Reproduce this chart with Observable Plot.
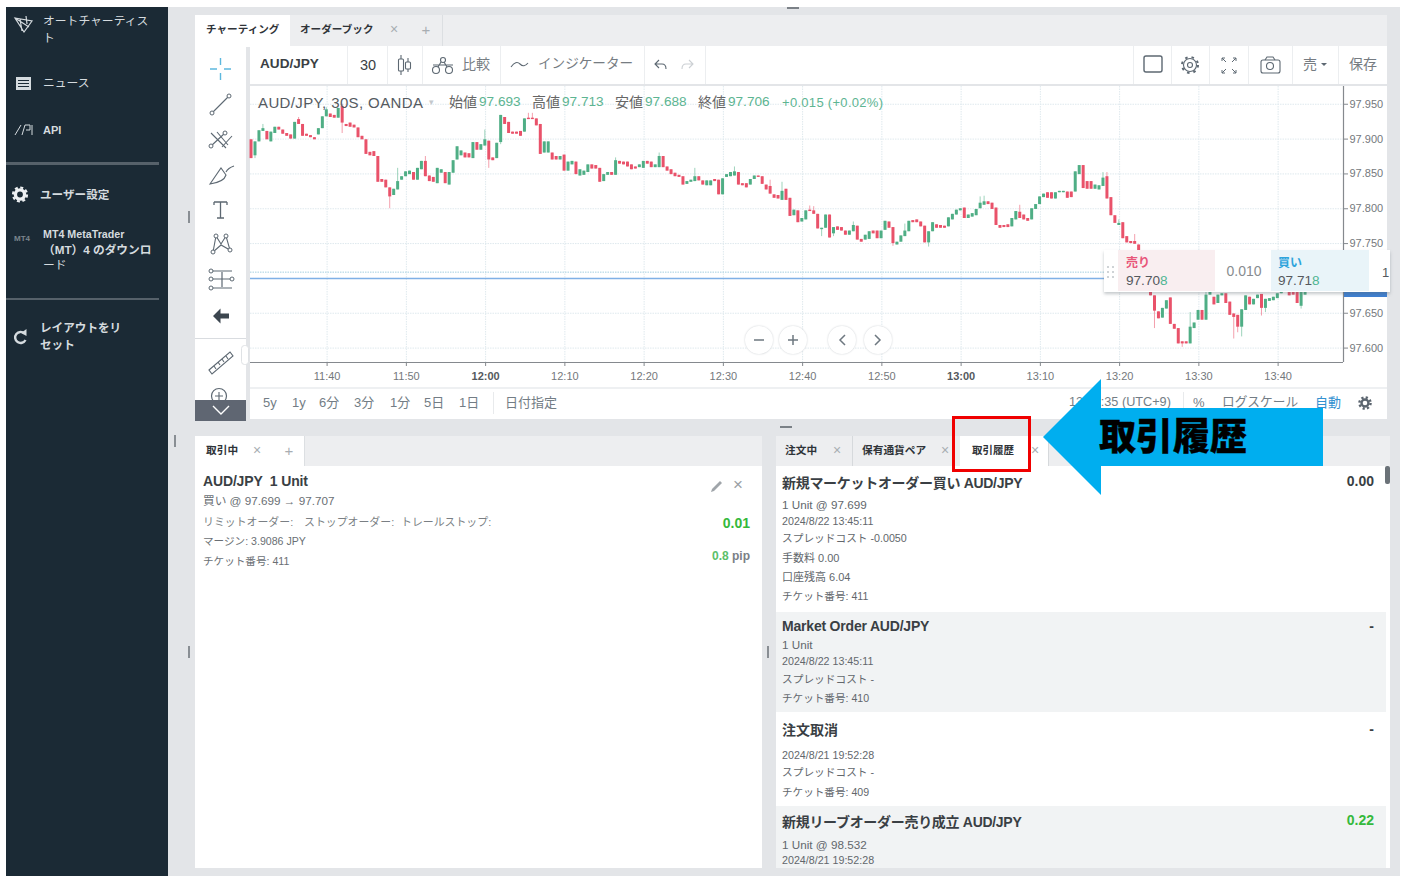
<!DOCTYPE html>
<html lang="ja">
<head>
<meta charset="utf-8">
<title>AUD/JPY 取引履歴</title>
<script src="https://cdn.jsdelivr.net/npm/d3@7"></script>
<script src="https://cdn.jsdelivr.net/npm/@observablehq/plot@0.6"></script>
<style>
html,body{margin:0;padding:0;background:#fff;width:1404px;height:876px;overflow:hidden}
#page{position:relative;width:1404px;height:876px;overflow:hidden;font-family:"Liberation Sans","Noto Sans CJK JP",sans-serif}
.b,.t{position:absolute}
.t{white-space:nowrap;line-height:1;transform:translateY(-50%)}
.t.r{transform:translate(-100%,-50%)}
.t.c{transform:translate(-50%,-50%)}
#chart{position:absolute;left:250px;top:86px;display:block;background:#fff}
#top{position:absolute;left:0;top:0;width:1404px;height:876px}
</style>
</head>
<body>
<div id="page"></div>
<script>
// Price values are thousandths above 97 yen (899 = 97.899), one 30-second candle per entry.
const opens = [
899,876,896,911,911,896,908,917,913,908,906,900,928,921,907,905,902,906,915,932,
936,934,930,947,921,923,920,916,904,899,881,882,875,842,841,830,819,827,841,846,
849,852,841,856,868,847,845,836,851,852,834,851,870,876,880,879,872,895,884,890,
897,873,872,895,931,924,910,910,911,910,930,930,929,921,880,880,880,875,870,877,
854,863,867,847,848,852,863,862,858,839,848,852,848,868,867,867,863,860,859,858,
868,867,859,859,875,860,856,851,848,846,835,838,839,846,840,833,833,842,841,820,
845,846,847,852,836,836,834,842,847,846,834,832,820,819,812,828,815,790,797,781,
784,798,797,792,770,772,791,764,774,773,768,762,767,775,756,755,756,768,768,757,
769,781,773,748,752,760,767,783,784,781,775,751,767,777,776,775,774,784,791,797,
801,786,788,790,800,805,810,808,801,776,776,777,774,784,795,791,786,784,799,806,
816,823,823,814,823,823,824,824,824,849,862,839,839,828,827,832,846,816,790,776,
780,760,753,753,748,740,725,700,675,652,643,656,672,634,628,609,609,606,628,640,
654,640,676,673,664,675,678,666,649,647,630,654,673,662,671,677,657,667,668,671,678,682,680,680,680,660,676];
const closes = [
872,896,912,915,899,910,917,913,907,904,900,924,921,904,904,902,899,915,932,942,
931,930,944,923,918,917,916,902,899,878,876,875,838,838,830,817,828,839,846,853,
854,841,858,868,846,839,838,858,856,836,852,869,889,883,873,873,895,884,892,899,
870,869,894,934,921,908,907,907,904,929,928,928,919,878,896,896,870,870,875,854,
867,868,849,856,854,863,857,857,838,849,852,848,869,864,863,860,856,857,863,868,
864,859,863,875,859,854,849,846,845,834,839,841,846,840,834,840,840,839,820,843,
849,852,853,834,833,830,842,847,845,835,827,821,815,814,825,812,789,798,780,786,
797,796,792,771,772,791,758,773,769,768,762,768,776,755,752,762,767,764,757,768,
782,772,750,752,761,768,782,780,780,774,751,767,780,772,772,772,787,792,798,800,
786,791,793,799,808,810,806,799,776,772,773,773,786,796,786,784,782,800,806,817,
821,815,814,823,825,825,815,816,853,862,829,828,828,834,833,844,814,790,779,779,
757,751,750,749,740,725,700,675,653,642,657,668,634,627,606,606,606,630,636,654,
640,676,685,662,676,678,664,647,644,630,655,675,662,670,676,657,670,671,673,678,682,680,675,676,664,680,680];
// Wicks that stand clear of the body: [candle number, price in thousandths]
const upperWicks = [[4,921],[13,931],[20,945],[24,950],[38,858],[45,875],[60,913],[71,937],[72,937],[93,873],[104,880],[113,858],[123,860],[132,841],[135,838],[142,804],[143,803],[153,781],[166,778],[185,817],[186,818],[195,805],[216,852],[217,852],[220,784],[224,763],[238,651],[242,680]];
const lowerWicks = [[2,872],[24,908],[36,800],[61,858],[64,892],[145,760],[148,760],[163,746],[172,745],[229,628],[236,601],[249,613],[250,622],[251,616],[256,646],[257,651],[266,656]];
const priceTicks = [97.95,97.9,97.85,97.8,97.75,97.7,97.65,97.6];
const timeTicks = ["11:40","11:50","12:00","12:10","12:20","12:30","12:40","12:50","13:00","13:10","13:20","13:30","13:40"];
const hourTicks = ["12:00","13:00"];
const askLine = 97.709, bidLine = 97.700;

const at = s => new Date(`2024-08-22T${s}Z`);
const first = at("11:30:24").getTime();
const high = new Map(upperWicks), low = new Map(lowerWicks);
const candles = opens.map((o,i)=>({
  time:new Date(first+i*30000),
  open:97+o/1000, close:97+closes[i]/1000,
  high:97+(high.get(i+1) ?? Math.max(o,closes[i]))/1000,
  low:97+(low.get(i+1) ?? Math.min(o,closes[i]))/1000,
  up:closes[i]>=o
}));
const UP="#4fae85", DOWN="#e9526a", GRID="#dfe9ee", AX="#85898e";
const hourSet=new Set(hourTicks);
const fmt=d3.utcFormat("%H:%M");

const chart = Plot.plot({
  width:1137,height:302,marginLeft:0,marginRight:44,marginTop:0,marginBottom:26,
  style:{background:"#fff",fontFamily:'"Liberation Sans",sans-serif',fontSize:"11px",color:"#74787c",overflow:"visible"},
  x:{type:"utc",domain:[at("11:30:20"),at("13:48:15")]},
  y:{domain:[97.5793,97.9755]},
  marks:[
    Plot.ruleX(timeTicks.map(at),{stroke:GRID,strokeDasharray:"1.5 1"}),
    Plot.ruleY(priceTicks,{stroke:GRID,strokeDasharray:"1.5 1"}),
    Plot.ruleY([askLine],{stroke:"#a5cfe0",strokeDasharray:"1.5 1"}),
    Plot.ruleY([bidLine],{stroke:"#7fb0e6",strokeWidth:1.5}),
    Plot.ruleX(candles,{x:"time",y1:"low",y2:"high",stroke:d=>d.up?UP:DOWN,strokeOpacity:0.55,strokeWidth:1}),
    Plot.ruleX(candles,{x:"time",y1:"open",y2:"close",stroke:d=>d.up?UP:DOWN,strokeWidth:3}),
    Plot.ruleX([at("13:48:15")],{stroke:AX,strokeWidth:1.2}),
    Plot.ruleY([97.5793],{stroke:AX,strokeWidth:1.2}),
    Plot.axisY({anchor:"right",ticks:priceTicks,tickFormat:d3.format(".3f"),tickSize:4,tickPadding:2,label:null,stroke:AX,fill:"#74787c"}),
    Plot.axisX({anchor:"bottom",ticks:timeTicks.filter(t=>!hourSet.has(t)).map(at),tickFormat:fmt,tickSize:4,tickPadding:6,label:null,stroke:AX,fill:"#74787c"}),
    Plot.axisX({anchor:"bottom",ticks:hourTicks.map(at),tickFormat:fmt,tickSize:4,tickPadding:6,label:null,stroke:AX,fill:"#55595d",fontWeight:"bold"})
  ]
});
chart.id="chart";

// ---- page furniture around the chart ----
const page=document.getElementById("page");
function box(x,y,w,h,bg,extra){const d=document.createElement("div");d.className="b";d.style.cssText=`left:${x}px;top:${y}px;width:${w}px;height:${h}px;background:${bg};${extra||""}`;page.appendChild(d);return d}
function txt(x,y,s,size,color,opt){opt=opt||{};const d=document.createElement("div");d.className="t "+(opt.a||"");d.style.cssText=`left:${x}px;top:${y}px;font-size:${size}px;color:${color};font-weight:${opt.w||"normal"};${opt.css||""}`;if(opt.html)d.innerHTML=s;else d.textContent=s;(opt.to||page).appendChild(d);return d}

box(6,7,1394,869,"#e3e5e8");
box(6,7,162,869,"#1b2a35");
box(6,162,153,3,"#56616a");
box(6,298,153,2,"#56616a");

// upper panel
box(195,15,1192,31,"#edeef0");
box(195,15,96,32,"#fff");
box(290,15,120,31,"#edeef0","border-right:1px solid #dcdfe2");
box(410,15,32,31,"#edeef0","border-right:1px solid #dcdfe2");
box(195,46,51,374,"#fff");
box(195,338,51,1,"#d9dce0");
box(250,46,1137,38,"#fff");
for(const x of [347,387,422,500,644,705,1133,1171,1209,1248,1292,1338]) box(x,46,1,38,"#eceef0");
page.appendChild(chart);
box(250,388,1137,31,"#fff");
box(250,387,1137,2,"#eef0f2");
box(493,392,1,22,"#e8eaec");
box(1183,392,1,22,"#e8eaec");
box(1344,292,43,5,"#3f80d2");

// lower left panel
box(195,436,567,30,"#edeef0");
box(195,436,78,31,"#fff");
box(273,436,31,30,"#fff","border-right:1px solid #dcdfe2");
box(195,466,567,402,"#fff");
// lower right panel
box(776,436,614,30,"#edeef0");
box(776,466,614,146,"#fff");
box(776,612,610,100,"#f1f3f4");
box(776,712,614,94,"#fff");
box(776,806,610,62,"#f1f3f4");
box(1386,612,4,256,"#fff");
box(852,436,1,30,"#d6d9dc");
box(960,436,88,31,"#fff");
box(1048,436,1,30,"#d6d9dc");
box(1385,466,5,18,"#6b7278","border-radius:2px");

// sidebar
const SB="#d5dbdf";
txt(43,21.5,"オートチャーティス",11.8,SB);
txt(43,38.5,"ト",11.8,SB);
txt(43,83.5,"ニュース",11.8,SB);
txt(43,130,"API",11,SB,{w:"bold"});
txt(40,194.5,"ユーザー設定",11.6,SB,{w:"bold"});
txt(14,239,"MT4",8,"#7b868e",{w:"bold"});
txt(43,234,"MT4 MetaTrader",10.7,SB,{w:"bold"});
txt(43,249.5,"（MT）4 のダウンロ",11.7,SB,{w:"bold"});
txt(43,266,"ード",11.8,SB);
txt(40,328,"レイアウトをリ",11.6,SB,{w:"bold"});
txt(40,345,"セット",11.6,SB,{w:"bold"});

// upper tabs and toolbar
const DK="#2f3338", G1="#767c82";
txt(206,29,"チャーティング",10.6,DK,{w:"bold"});
txt(300,29,"オーダーブック",10.6,DK,{w:"bold"});
txt(394,29,"×",14,"#a8adb2",{a:"c"});
txt(426,29,"+",15,"#a8adb2",{a:"c"});
txt(260,64,"AUD/JPY",13.6,"#3a3f44",{w:"bold"});
txt(368,65,"30",14.5,"#3a3f44",{a:"c"});
txt(462,64,"比較",14,G1);
txt(538,64,"インジケーター",13.6,G1);
txt(1303,64,"売",14,G1);
txt(1349,64,"保存",14,G1);

// chart legend
const GN="#5db592";
txt(258,102,"AUD/JPY, 30S, OANDA",15,"#555a5f",{css:"letter-spacing:0.38px"});
txt(431,102,"▾",9,"#c4c8cc",{a:"c"});
txt(449,102,"始値",14,"#666");txt(479,102,"97.693",13.6,GN);
txt(532,102,"高値",14,"#666");txt(562,102,"97.713",13.6,GN);
txt(615,102,"安値",14,"#666");txt(645,102,"97.688",13.6,GN);
txt(698,102,"終値",14,"#666");txt(728,102,"97.706",13.6,GN);
txt(782,102,"+0.015 (+0.02%)",13,GN,{css:"letter-spacing:0.3px"});

// zoom buttons
for(const x of [759,793,842,878]) box(x-14,326,28,28,"#fff","border-radius:50%;box-shadow:0 0 2px #c8ccd0;");

// trade panel over the chart
box(1104,250,286,42,"#fff","box-shadow:0 2px 3px rgba(90,100,110,.35)");
box(1118,250,97,41,"#f9eef0");
box(1271,250,98,41,"#e9f4f9");
txt(1126,263,"売り",12,"#e8567a",{w:"bold"});
txt(1126,281,'97.70<span style="color:#4fb592">8</span>',13.6,"#55595e",{html:true});
txt(1244,271,"0.010",14,"#888c90",{a:"c"});
txt(1278,263,"買い",12,"#2ea4dc",{w:"bold"});
txt(1278,281,'97.71<span style="color:#4fb592">8</span>',13.6,"#55595e",{html:true});
txt(1382,272,"1",13,"#55595e");

// range bar
const RB="#737d85";
[["5y",263],["1y",292],["6分",319],["3分",354],["1分",390],["5日",424],["1日",459],["日付指定",505]]
  .forEach(([s,x])=>txt(x,401.5,s,13,RB));
txt(1069,402,"13:45:35 (UTC+9)",12.7,RB);
txt(1193,401.5,"%",13,RB);
txt(1222,401.5,"ログスケール",12.7,RB);
txt(1315,401.5,"自動",13,"#3391d0");

// lower left text
txt(206,450,"取引中",10.7,DK,{w:"bold"});
txt(257,450,"×",14,"#a8adb2",{a:"c"});
txt(289,450,"+",15,"#a8adb2",{a:"c"});
txt(203,481,"AUD/JPY  1 Unit",14,"#3a3f44",{w:"bold",css:"white-space:pre;letter-spacing:-0.15px"});
txt(203,501,"買い @ 97.699 → 97.707",11.7,"#6a6f74");
txt(203,521.5,"リミットオーダー:",10.9,"#7a7f84");
txt(304,521.5,"ストップオーダー:",10.9,"#7a7f84");
txt(401,521.5,"トレールストップ:",10.9,"#7a7f84");
txt(203,541,"マージン: 3.9086 JPY",10.6,"#6a6f74");
txt(203,561,"チケット番号: 411",10.6,"#6a6f74");
txt(750,523,"0.01",14,"#35b93c",{a:"r",w:"bold"});
txt(750,556,'<span style="color:#5bbf6a">0.8</span> pip',12,"#7a8086",{a:"r",w:"bold",html:true});
txt(738,484,"×",17,"#9a9fa4",{a:"c"});

// lower right text
txt(785,450,"注文中",10.7,DK,{w:"bold"});
txt(837,450,"×",14,"#a8adb2",{a:"c"});
txt(862,450,"保有通貨ペア",10.7,DK,{w:"bold"});
txt(945,450,"×",14,"#a8adb2",{a:"c"});
txt(972,450,"取引履歴",10.5,DK,{w:"bold"});
txt(1035,450,"×",14,"#a8adb2",{a:"c"});
const H="#3a3f44", L="#62676c", TT="letter-spacing:-0.3px", TM="letter-spacing:-0.2px";
txt(782,483,"新規マーケットオーダー買い AUD/JPY",14,H,{w:"bold",css:TT});
txt(1374,481,"0.00",14,H,{a:"r",w:"bold"});
txt(782,505,"1 Unit @ 97.699",11.7,L);
txt(782,521,"2024/8/22 13:45:11",10.7,L);
txt(782,538,"スプレッドコスト -0.0050",10.7,L);
txt(782,558,"手数料 0.00",11,L);
txt(782,577,"口座残高 6.04",11,L);
txt(782,596,"チケット番号: 411",10.6,L);
txt(782,626,"Market Order AUD/JPY",14,H,{w:"bold",css:TM});
txt(1374,626,"-",14,H,{a:"r",w:"bold"});
txt(782,645,"1 Unit",11.7,L);
txt(782,661,"2024/8/22 13:45:11",10.7,L);
txt(782,679,"スプレッドコスト -",10.7,L);
txt(782,698,"チケット番号: 410",10.6,L);
txt(782,730,"注文取消",14,H,{w:"bold"});
txt(1374,729,"-",14,H,{a:"r",w:"bold"});
txt(782,755,"2024/8/21 19:52:28",10.7,L);
txt(782,772,"スプレッドコスト -",10.7,L);
txt(782,792,"チケット番号: 409",10.6,L);
txt(782,822,"新規リーブオーダー売り成立 AUD/JPY",14,H,{w:"bold",css:TT});
txt(1374,820,"0.22",14,"#35b93c",{a:"r",w:"bold"});
txt(782,845,"1 Unit @ 98.532",11.7,L);
txt(782,860,"2024/8/21 19:52:28",10.7,L);

// icons and annotation
const I="#5d6872";
const gear=(x,y,r,c)=>`<circle cx="${x}" cy="${y}" r="${r+1.5}" fill="none" stroke="${c}" stroke-width="1.1"/><circle cx="${x}" cy="${y}" r="${r+3}" fill="none" stroke="${c}" stroke-width="2" stroke-dasharray="2.5 4"/><circle cx="${x}" cy="${y}" r="${r-2.5}" fill="none" stroke="${c}" stroke-width="1.1"/>`;
const dot=(x,y)=>`<circle cx="${x}" cy="${y}" r="2" fill="#fff" stroke="${I}" stroke-width="1"/>`;
const ns="http://www.w3.org/2000/svg";
const ov=document.createElementNS(ns,"svg");
ov.setAttribute("id","top");ov.setAttribute("width",1404);ov.setAttribute("height",876);
ov.innerHTML=`
<g fill="none" stroke="#d5dbdf" stroke-width="1.2">
 <path d="M15 18 L32 21 L24 32 Z M20 19 L22 31 M15 18 L29 27 M26 16 L27 24"/>
 <rect x="16" y="77" width="15" height="13" fill="#d5dbdf" stroke="none"/>
 <path d="M18 80.500h11M18 83.500h11M18 86.500h11" stroke="#1b2a35"/>
 <path d="M15 135 L21 125 M22 135 L25 125 H30 V130 H26 M32 125 V135" stroke-width="1"/>
 <path d="M24.500 333.500 A5.500 5.500 0 1 0 25.500 340" stroke-width="2.4"/>
 <path d="M21 333 L26.500 329 L26.500 336 Z" fill="#d5dbdf" stroke="none"/>
</g>
<g fill="none" stroke="#eef1f3"><circle cx="20" cy="194.500" r="4.600" stroke-width="3.400"/><circle cx="20" cy="194.500" r="7" stroke-width="2.200" stroke-dasharray="3 2.500"/></g>
<g fill="none" stroke="#5db8de" stroke-width="1.400"><path d="M210 69h7M224 69h7M220.500 58v7M220.500 73v7"/></g>
<g fill="none" stroke="${I}" stroke-width="1.100">
 <path d="M212 113 L229 96"/>
 <path d="M211 133 L226 148 M217 132 L228 145 M211 146 L225 133 M222 147 L232 136"/>
 <path d="M210 184 L221 168 L226 175 Q224 182 210 184 Z M226 172 Q228 168 234 166"/>
 <path d="M214 202h13M220.500 202v16M217 218h7M214 202v3M227 202v3" stroke-width="1.300"/>
 <path d="M213 252 L216 236 L221 244 L226 236 L230 250 L221 245 L213 252"/>
 <path d="M212 271h20M212 279h20M212 288h20M222 272v15" stroke-width="1.200"/>
 <path d="M209 370 L230 352 L233 356 L212 374 Z M214 366l2 3M218 362l2 3M222 359l2 3M226 356l2 3"/>
 <circle cx="219" cy="396" r="7.500" stroke-width="1.200"/><path d="M215 396h8M219 392v8"/>
</g>
${dot(212,113)}${dot(229,96)}${dot(211,146)}${dot(225,133)}${dot(213,252)}${dot(216,236)}${dot(226,236)}${dot(230,250)}${dot(211,271)}${dot(211,279)}${dot(211,288)}${dot(232,279)}
<path d="M213 316 L220.500 308.500 V313.500 H229 V318.500 H220.500 V323.500 Z" fill="#3c464f"/>
<rect x="195" y="400" width="51" height="21" fill="#5f6672"/>
<path d="M213 406 L221 414 L229 406" fill="none" stroke="#fff" stroke-width="1.400"/>
<rect x="241.500" y="345.500" width="7" height="19" rx="3" fill="#fff" stroke="#dfe2e5"/>
<g fill="none" stroke="${I}" stroke-width="1.100">
 <path d="M401 55v4M401 71v4M408 58v4M408 69v3"/><rect x="398.500" y="59" width="5" height="12" rx="1"/><rect x="405.500" y="62" width="5" height="7" rx="1"/>
 <circle cx="436" cy="70" r="3.500"/><circle cx="449" cy="70" r="3.500"/><circle cx="443" cy="60" r="2.500"/><path d="M438 67l3-5M447 67l-3-5M433 65h20"/>
 <path d="M511 67 Q516 60 520 64 T528 63"/>
 <path d="M659 60 L655 64 L659 68 M655 64 H662 Q666 64 666 69"/>
 <path d="M689 60 L693 64 L689 68 M693 64 H686 Q682 64 682 69" stroke="#ccd0d4"/>
 <rect x="1144" y="56" width="18" height="16" rx="2" stroke-width="1.400"/>
 <path d="M1222 58l4 4M1222 58h3M1222 58v3M1236 58l-4 4M1236 58h-3M1236 58v3M1222 73l4-4M1222 73h3M1222 73v-3M1236 73l-4-4M1236 73h-3M1236 73v-3" stroke-width="1"/>
 <rect x="1261" y="60" width="19" height="13" rx="2"/><circle cx="1270" cy="66" r="3.500"/><path d="M1265 60l2-3h6l2 3"/>
 <path d="M1321 63h6l-3 3z" fill="${I}" stroke="none"/>
</g>
${gear(1190,65,5,I)}
<g stroke="#4a5560" fill="none" opacity=".9"><circle cx="1365" cy="403" r="3.500" stroke-width="2.400"/><circle cx="1365" cy="403" r="5.600" stroke-dasharray="2.200 2.200" stroke-width="2.400"/></g>
<g fill="none" stroke="#6e7880" stroke-width="1.500">
 <path d="M754 340h10M788 340h10M793 335v10M845 335l-5 5 5 5M875 335l5 5-5 5"/>
</g>
<g fill="#bfc4c9"><circle cx="1108" cy="267" r="1"/><circle cx="1113" cy="267" r="1"/><circle cx="1108" cy="272" r="1"/><circle cx="1113" cy="272" r="1"/><circle cx="1108" cy="277" r="1"/><circle cx="1113" cy="277" r="1"/></g>
<path d="M712 489l8-8 2 2-8 8-3 1z" fill="#a0a5aa"/>
<g stroke="#5a6067" stroke-width="1.300"><path d="M189 211v12M175 435v12M189 646v12M768 646v12"/><path d="M787 8h12M780 427h12"/></g>
<rect x="953.500" y="417.500" width="76" height="53" fill="none" stroke="#f00000" stroke-width="3"/>
<path d="M1043 437 L1101 379 V408 H1323 V466 H1101 V495 Z" fill="#00aeef"/>
<text x="1099" y="450" font-size="37" font-weight="900" stroke="#000" stroke-width=".4" font-family="'Noto Sans CJK JP'">取引履歴</text>
`;
page.appendChild(ov);
</script>
</body>
</html>
